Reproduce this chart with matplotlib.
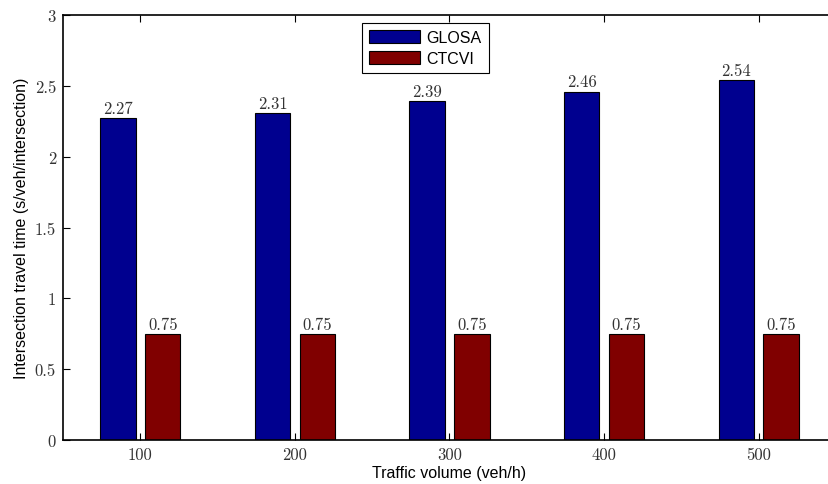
import numpy as np
import matplotlib
matplotlib.use('Agg')
import matplotlib.pyplot as plt

# traffic volumes and travel times per intersection
volumes = [100, 200, 300, 400, 500]
glosa = [2.27, 2.31, 2.39, 2.46, 2.54]
ctcvi = [0.75, 0.75, 0.75, 0.75, 0.75]
yticks = [0, 0.5, 1, 1.5, 2, 2.5, 3]

fig = plt.figure(figsize=(8.29, 4.85), dpi=100)
ax = fig.add_axes([63 / 829, 44 / 485, (836 - 63) / 829, 425 / 485])

x = np.array(volumes)
w = 23
b1 = ax.bar(x - 14.5, glosa, w, color='#00008f', edgecolor='black', linewidth=0.8, label='GLOSA')
b2 = ax.bar(x + 14.5, ctcvi, w, color='#800000', edgecolor='black', linewidth=0.8, label='CTCVI')

serif = 'cmr10'
for bars, vals in [(b1, glosa), (b2, ctcvi)]:
    for r, v in zip(bars, vals):
        ax.text(r.get_x() + r.get_width() / 2, v + 0.015, f'{v:.2f}',
                ha='center', va='bottom', fontsize=12, family=serif, color='#333333')

ax.set_xlim(50, 550)
ax.set_ylim(0, 3)
ax.set_xticks(volumes)
ax.set_yticks(yticks)
ax.set_yticklabels(['0', '0.5', '1', '1.5', '2', '2.5', '3'])
ax.tick_params(direction='in', length=5, width=0.8, top=True, right=True, labelsize=12, pad=5)
for lab in ax.get_xticklabels() + ax.get_yticklabels():
    lab.set_family(serif)
    lab.set_color('#333333')
for s in ax.spines.values():
    s.set_linewidth(1.2)

ax.set_xlabel('Traffic volume (veh/h)', family='Liberation Sans', fontsize=11.5, labelpad=2)
ax.set_ylabel('Intersection travel time (s/veh/intersection)', family='Liberation Sans', fontsize=11.5, labelpad=4)

leg = ax.legend(loc='upper left', bbox_to_anchor=(362 / 829, 1 - 24 / 485), bbox_transform=fig.transFigure,
                prop={'family': 'Liberation Sans', 'size': 11.5}, fancybox=False, edgecolor='black',
                framealpha=1, handlelength=3.2, handleheight=0.85, borderpad=0.45, labelspacing=0.35,
                handletextpad=0.4, borderaxespad=0)
leg.get_frame().set_linewidth(0.8)

fig.savefig('out.png', dpi=100)
